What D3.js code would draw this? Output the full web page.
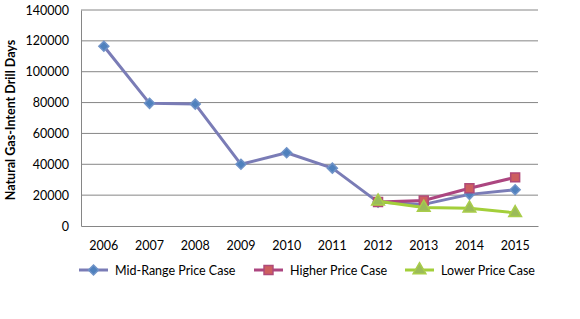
<!DOCTYPE html>
<html>
<head>
  <meta charset="utf-8">
  <title>Natural Gas-Intent Drill Days</title>
  <script src="https://d3js.org/d3.v7.min.js"></script>
  <style type="text/css">
    body { margin: 0; background: #fff; }
    svg text { font-family: Lato, "Open Sans", sans-serif; fill: #000; }
  </style>
</head>
<body>
<div id="chart"></div>
<script type="text/javascript">
  const years = ['2006', '2007', '2008', '2009', '2010', '2011', '2012', '2013', '2014', '2015'];
  const yTicks = [0, 20000, 40000, 60000, 80000, 100000, 120000, 140000];

  const midRange = [116500, 79500, 79000, 40000, 47500, 37500, 15500, 14000, 20500, 23500];
  const higherYears = ['2012', '2013', '2014', '2015'];
  const higher = [15500, 16500, 24500, 31500];
  const lowerYears = ['2012', '2013', '2014', '2015'];
  const lower = [16000, 12000, 11500, 8500];

  const seriesNames = ['Mid-Range Price Case', 'Higher Price Case', 'Lower Price Case'];

  const width = 580, height = 319;
  const margin = { top: 10, right: 42, bottom: 93, left: 81 };
  const innerW = width - margin.left - margin.right;
  const innerH = height - margin.top - margin.bottom;

  const svg = d3.select('#chart').append('svg')
    .attr('width', width)
    .attr('height', height);

  const g = svg.append('g')
    .attr('transform', `translate(${margin.left},${margin.top})`);

  const x = d3.scaleBand().domain(years).range([0, innerW]);
  const y = d3.scaleLinear().domain([0, 140000]).range([innerH, 0]);
  const cx = d => x(d) + x.bandwidth() / 2;

  // gridlines
  g.selectAll('.grid').data(yTicks.filter(t => t > 0)).enter()
    .append('line')
      .attr('x1', 0).attr('x2', innerW)
      .attr('y1', d => y(d)).attr('y2', d => y(d))
      .attr('stroke', '#868686').attr('stroke-width', 1);

  // y axis
  const yAxis = g.append('g')
    .call(d3.axisLeft(y).tickValues(yTicks).tickSize(0).tickPadding(12).tickFormat(d3.format('d')));
  yAxis.select('.domain').attr('stroke', '#868686');
  yAxis.selectAll('text').attr('font-size', '12.5px');

  // x axis
  const xAxis = g.append('g')
    .attr('transform', `translate(0,${innerH})`)
    .call(d3.axisBottom(x).tickSize(0).tickPadding(15));
  xAxis.select('.domain').attr('stroke', '#868686');
  xAxis.selectAll('text').attr('font-size', '12.5px');

  // y title
  svg.append('text')
    .attr('transform', `translate(15,${margin.top + innerH / 2 + 2}) rotate(-90)`)
    .attr('text-anchor', 'middle')
    .attr('font-size', '12.5px')
    .attr('font-weight', 'bold')
    .text('Natural Gas-Intent Drill Days');

  const line = d3.line().x(d => cx(d[0])).y(d => y(d[1]));

  // symmetric diamond (d3's diamond is too tall)
  const diamond = 'M0,-5L5,0L0,5L-5,0Z';
  const square = d3.symbol().type(d3.symbolSquare).size(80);
  const triangle = d3.symbol().type(d3.symbolTriangle).size(70);

  const series = [
    { name: seriesNames[0], xs: years, vals: midRange, line: '#7a7cb6', fill: '#4f81bd', stroke: '#6f93c8', sym: diamond },
    { name: seriesNames[1], xs: higherYears, vals: higher, line: '#ac4680', fill: '#cd5f5f', stroke: '#b04a78', sym: square },
    { name: seriesNames[2], xs: lowerYears, vals: lower, line: '#a3cf3a', fill: '#9bbb59', stroke: '#a9cd4a', sym: triangle }
  ];

  series.forEach(s => {
    const pts = s.xs.map((yr, i) => [yr, s.vals[i]]);
    g.append('path')
      .datum(pts)
      .attr('d', line)
      .attr('fill', 'none')
      .attr('stroke', s.line)
      .attr('stroke-width', 3)
      .attr('stroke-linejoin', 'round');
    g.selectAll(null).data(pts).enter()
      .append('path')
        .attr('d', s.sym)
        .attr('transform', d => `translate(${cx(d[0])},${y(d[1])})`)
        .attr('fill', s.fill)
        .attr('stroke', s.stroke)
        .attr('stroke-width', 1.5);
  });

  // legend
  const legendX = [79, 254, 405];
  const legendY = 270;
  series.forEach((s, i) => {
    const lg = svg.append('g').attr('transform', `translate(${legendX[i]},${legendY})`);
    lg.append('line')
      .attr('x1', 0).attr('x2', 29)
      .attr('stroke', s.line).attr('stroke-width', 3);
    lg.append('path')
      .attr('d', s.sym)
      .attr('transform', 'translate(14.5,0)')
      .attr('fill', s.fill)
      .attr('stroke', s.stroke)
      .attr('stroke-width', 1.5);
    lg.append('text')
      .attr('x', 36).attr('y', 4.5)
      .attr('font-size', '12.5px')
      .text(s.name);
  });
</script>
</body>
</html>
